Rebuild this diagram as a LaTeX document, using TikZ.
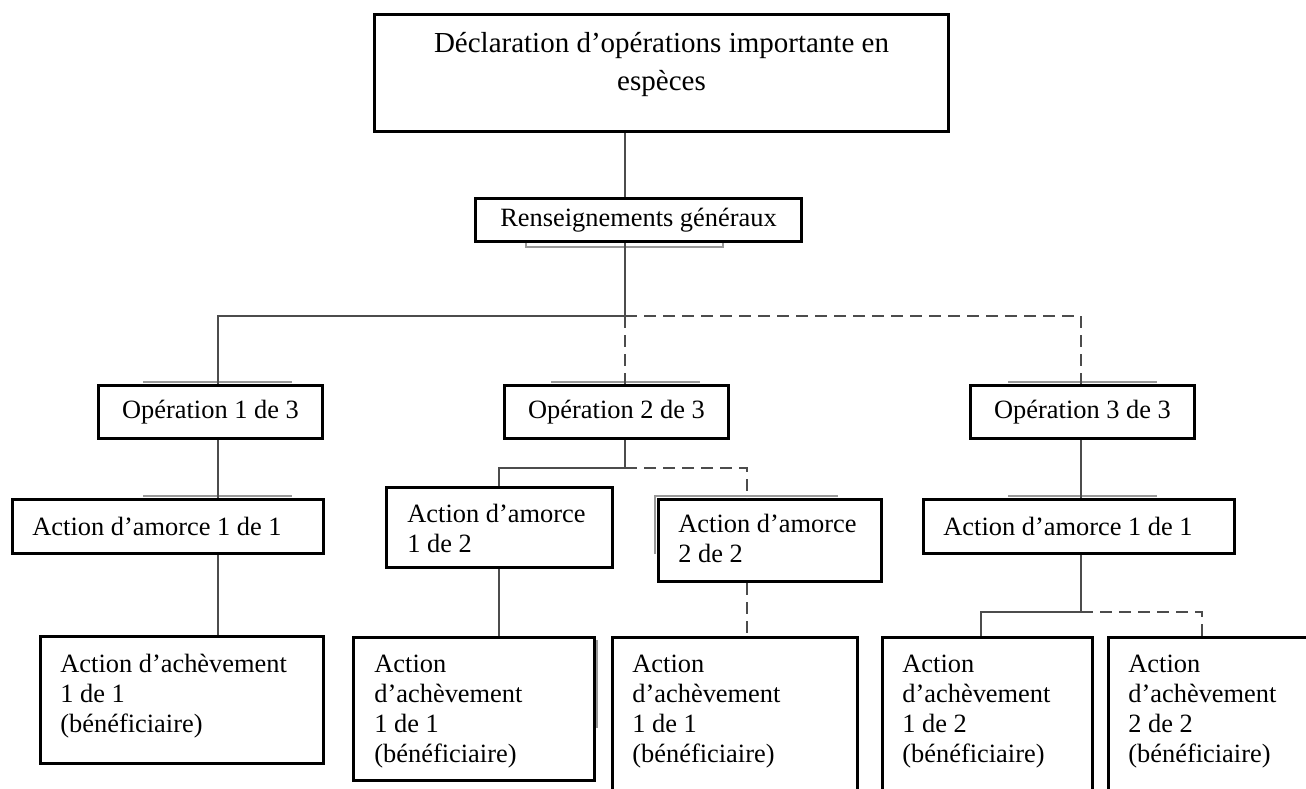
\documentclass[tikz,border=0pt]{standalone}
\usepackage{fontspec}
\setmainfont{Liberation Serif}
\usetikzlibrary{positioning}

\begin{document}
\begin{tikzpicture}[x=0.5pt, y=-0.5pt,
  box/.style={draw, line width=1.5pt, inner sep=0pt, anchor=north west,
    font=\fontsize{13.2}{15}\selectfont},
  txt/.style={inner sep=0pt, align=left, font=\fontsize{13.2}{15}\selectfont},
  toptxt/.style={inner sep=0pt, align=center, font=\fontsize{14.5}{19}\selectfont},
  link/.style={draw=black!70, line width=0.6pt},
  dashlink/.style={link, dash pattern=on 6pt off 3.5pt},
  ghost/.style={draw=black!40, line width=0.9pt}]
  \useasboundingbox (0,0) rectangle (1306,788);

  % grey leftovers of the grouped frames
  \draw[ghost] (526,240) -- (526,247) -- (723,247) -- (723,240);
  \foreach \gx in {143,551,1008} {
    \draw[ghost] (\gx,382) -- ++(149,0);
    \draw[ghost] (\gx,439) -- ++(149,0);
  }
  \foreach \gx in {143,1008} {
    \draw[ghost] (\gx,496) -- ++(149,0);
    \draw[ghost] (\gx,554) -- ++(149,0);
  }
  \draw[ghost] (655,554) -- (655,496) -- (838,496);
  \draw[ghost] (593,641) -- (597,641) -- (597,727) -- (593,727);

  % frames
  \node[box, minimum width=287pt, minimum height=58.5pt] (decl) at (373,13) {};
  \node[toptxt, below=9.5pt of decl.north] (decltxt) {Déclaration d’opérations importante en\\espèces};
  \node[box, minimum width=163pt, minimum height=21.5pt] (rens) at (474,197) {Renseignements généraux};

  \node[box, minimum width=112pt, minimum height=26.5pt] (op1) at (97,384) {Opération 1 de 3};
  \node[box, minimum width=112pt, minimum height=26.5pt] (op2) at (503,384) {Opération 2 de 3};
  \node[box, minimum width=112pt, minimum height=26.5pt] (op3) at (969,384) {Opération 3 de 3};

  \node[box, minimum width=155.5pt, minimum height=27pt] (aml) at (11,498) {};
  \node[txt, right=10.5pt of aml.west, anchor=west] (amltxt) {Action d’amorce 1 de 1};
  \node[box, minimum width=113pt, minimum height=40pt] (amm1) at (385,486) {};
  \node[txt, below right=9pt and 11pt of amm1.north west] (amm1txt) {Action d’amorce\\1 de 2};
  \node[box, minimum width=111.5pt, minimum height=41pt] (amm2) at (657,498) {};
  \node[txt, below right=8pt and 10.5pt of amm2.north west] (amm2txt) {Action d’amorce\\2 de 2};
  \node[box, minimum width=155.5pt, minimum height=27pt] (amr) at (922,498) {};
  \node[txt, right=10.5pt of amr.west, anchor=west] (amrtxt) {Action d’amorce 1 de 1};

  \node[box, minimum width=141.5pt, minimum height=63.5pt] (achl) at (39,635) {};
  \node[txt, below right=9.5pt and 10.5pt of achl.north west] (achltxt) {Action d’achèvement\\1 de 1\\(bénéficiaire)};
  \node[box, minimum width=120.5pt, minimum height=71.5pt] (achm1) at (352,636) {};
  \node[txt, below right=9.5pt and 11pt of achm1.north west] (achm1txt) {Action\\d’achèvement\\1 de 1\\(bénéficiaire)};
  \node[box, minimum width=122.5pt, minimum height=85pt] (achm2) at (611,636) {};
  \node[txt, below right=9.5pt and 10.5pt of achm2.north west] (achm2txt) {Action\\d’achèvement\\1 de 1\\(bénéficiaire)};
  \node[box, minimum width=105pt, minimum height=85pt] (achr1) at (881,636) {};
  \node[txt, below right=9.5pt and 10.5pt of achr1.north west] (achr1txt) {Action\\d’achèvement\\1 de 2\\(bénéficiaire)};
  \node[box, minimum width=110pt, minimum height=85pt] (achr2) at (1107,636) {};
  \node[txt, below right=9.5pt and 10.5pt of achr2.north west] (achr2txt) {Action\\d’achèvement\\2 de 2\\(bénéficiaire)};

  % junctions
  \coordinate (j1) at (625,316);
  \coordinate (b1) at (218,316);
  \coordinate (b3) at (1081,316);
  \coordinate (j2) at (625,468);
  \coordinate (b4) at (499,468);
  \coordinate (b5) at (747,468);
  \coordinate (j3) at (1081,612);
  \coordinate (b6) at (981,612);
  \coordinate (b7) at (1202,612);

  % connectors
  \draw[link] (decl.south -| j1) -- (rens.north -| j1);
  \draw[link] (rens.south -| j1) -- (j1);
  \draw[link] (j1) -- (b1) -- (b1 |- op1.north);
  \draw[dashlink] (j1) -- (j1 |- op2.north);
  \draw[dashlink] (j1) -- (b3) -- (b3 |- op3.north);

  \draw[link] (b1 |- op1.south) -- (b1 |- aml.north);
  \draw[link] (b1 |- aml.south) -- (b1 |- achl.north);

  \draw[link] (j2 |- op2.south) -- (j2);
  \draw[link] (j2) -- (b4) -- (b4 |- amm1.north);
  \draw[dashlink] (j2) -- (b5) -- (b5 |- amm2.north);
  \draw[link] (b4 |- amm1.south) -- (b4 |- achm1.north);
  \draw[dashlink] (b5 |- amm2.south) -- (b5 |- achm2.north);

  \draw[link] (j3 |- op3.south) -- (j3 |- amr.north);
  \draw[link] (j3 |- amr.south) -- (j3);
  \draw[link] (j3) -- (b6) -- (b6 |- achr1.north);
  \draw[dashlink] (j3) -- (b7) -- (b7 |- achr2.north);
\end{tikzpicture}
\end{document}
